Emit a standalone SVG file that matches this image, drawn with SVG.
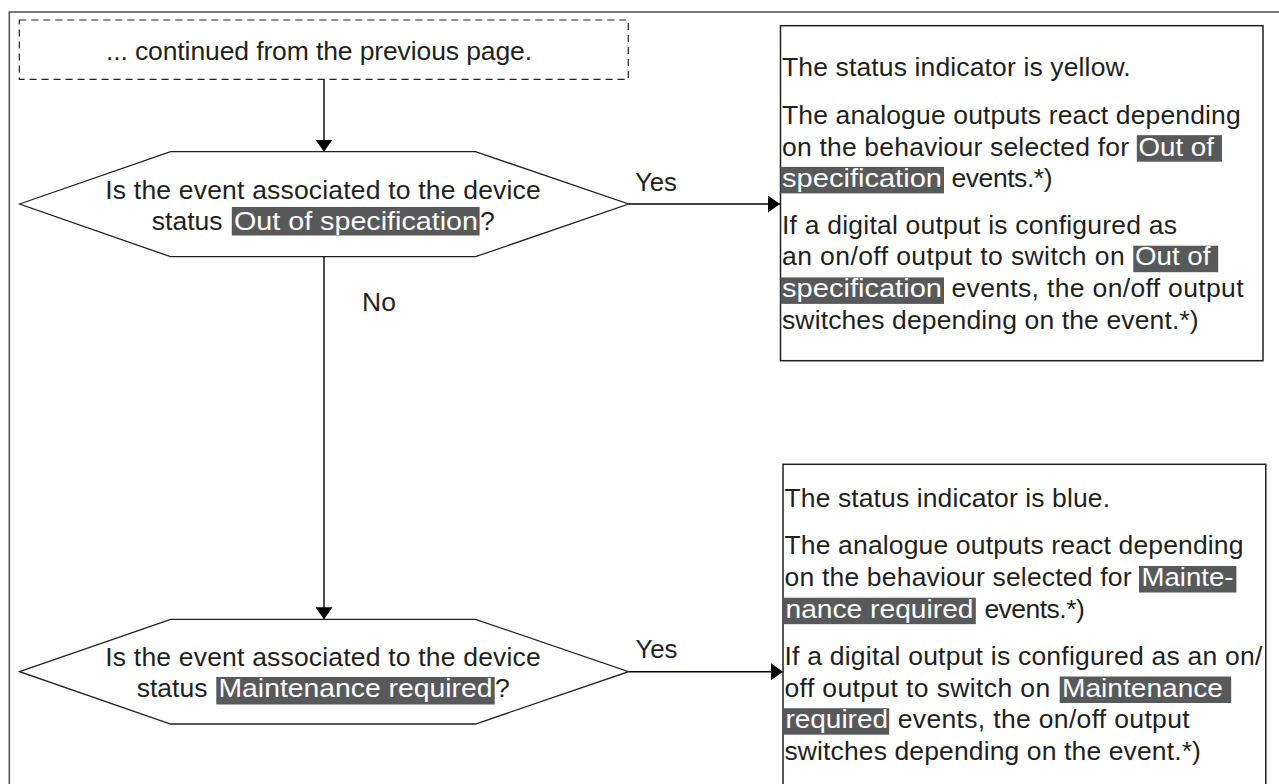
<svg xmlns="http://www.w3.org/2000/svg" width="1279" height="784" viewBox="0 0 1279 784">
  <style>
    text { font-family: "Liberation Sans", Arial, Helvetica, sans-serif; font-size: 26.5px; fill: #231f20; }
    text.hl { fill: #ffffff; }
    .hlbg { fill: #58595b; }
    .frame { fill: none; stroke: #58595b; stroke-width: 1.6; }
    .box { fill: #ffffff; stroke: #231f20; stroke-width: 1.5; }
    .dash { fill: none; stroke: #231f20; stroke-width: 1.2; stroke-dasharray: 7 5; }
    .hex { fill: #ffffff; stroke: #231f20; stroke-width: 1.3; }
    .conn { fill: none; stroke: #000000; stroke-width: 1.4; }
    .mid { text-anchor: middle; }
  </style>
  <defs>
    <marker id="arrow" markerUnits="userSpaceOnUse" markerWidth="12" markerHeight="17" refX="12" refY="8.5" orient="auto">
      <path d="M0,0 L12,8.5 L0,17 Z" fill="#000000"/>
    </marker>
  </defs>
  <rect width="1279" height="784" fill="#ffffff"/>
  <rect class="frame" x="9.3" y="12" width="1300" height="800"/>

  <g id="connectors">
    <line class="conn" x1="324" y1="79.5" x2="324" y2="151.7" marker-end="url(#arrow)"/>
    <line class="conn" x1="628.6" y1="204" x2="780" y2="204" marker-end="url(#arrow)"/>
    <line class="conn" x1="324" y1="256.7" x2="324" y2="619.3" marker-end="url(#arrow)"/>
    <line class="conn" x1="628.6" y1="671.7" x2="783" y2="671.7" marker-end="url(#arrow)"/>
    <text x="635" y="190.7" textLength="42" lengthAdjust="spacingAndGlyphs">Yes</text>
    <text x="362" y="311">No</text>
    <text x="635.5" y="658.3" textLength="42" lengthAdjust="spacingAndGlyphs">Yes</text>
  </g>

  <g id="start">
    <rect class="dash" x="19.3" y="20" width="609" height="59.3"/>
    <text x="106" y="60" textLength="426" lengthAdjust="spacing">... continued from the previous page.</text>
  </g>

  <g id="decision1">
    <polygon class="hex" points="19.6,204 170.6,151.7 475.5,151.7 628.6,204 475.5,256.7 170.6,256.7"/>
    <text x="105.3" y="199.3" textLength="435.5" lengthAdjust="spacing">Is the event associated to the device</text>
    <text x="151.8" y="230">status</text>
    <rect class="hlbg" x="231.8" y="207" width="247.8" height="28.5"/>
    <text class="hl" x="234" y="230" textLength="244" lengthAdjust="spacingAndGlyphs">Out of specification</text>
    <text x="480" y="230">?</text>
  </g>

  <g id="result1">
    <rect class="box" x="780.5" y="25.7" width="482.5" height="335"/>
    <text x="782" y="75.5" textLength="348.7" lengthAdjust="spacing">The status indicator is yellow.</text>
    <text x="782" y="124" textLength="458.7" lengthAdjust="spacing">The analogue outputs react depending</text>
    <text x="782" y="155.7" textLength="347" lengthAdjust="spacing">on the behaviour selected for</text>
    <rect class="hlbg" x="1136.8" y="135.2" width="85.2" height="26.5"/>
    <text class="hl" x="1138.5" y="155.7" textLength="75.5" lengthAdjust="spacingAndGlyphs">Out of</text>
    <rect class="hlbg" x="780.5" y="166.9" width="163.5" height="26.5"/>
    <text class="hl" x="782" y="187.4" textLength="160" lengthAdjust="spacingAndGlyphs">specification</text>
    <text x="951.5" y="187.4" textLength="101" lengthAdjust="spacing">events.*)</text>
    <text x="782" y="233.5" textLength="395" lengthAdjust="spacing">If a digital output is configured as</text>
    <text x="782" y="265.2" textLength="342.7" lengthAdjust="spacing">an on/off output to switch on</text>
    <rect class="hlbg" x="1133.3" y="245.7" width="84.9" height="26.5"/>
    <text class="hl" x="1135" y="265.2" textLength="75.5" lengthAdjust="spacingAndGlyphs">Out of</text>
    <rect class="hlbg" x="780.5" y="277.4" width="163.5" height="26.5"/>
    <text class="hl" x="782" y="296.9" textLength="160" lengthAdjust="spacingAndGlyphs">specification</text>
    <text x="951.5" y="296.9" textLength="292" lengthAdjust="spacing">events, the on/off output</text>
    <text x="782" y="328.6" textLength="416.7" lengthAdjust="spacing">switches depending on the event.*)</text>
  </g>

  <g id="decision2">
    <polygon class="hex" points="19.6,671.7 170.6,619.3 475.5,619.3 628.6,671.7 475.5,724 170.6,724"/>
    <text x="105.3" y="666" textLength="435.5" lengthAdjust="spacing">Is the event associated to the device</text>
    <text x="136.7" y="696.7">status</text>
    <rect class="hlbg" x="216.3" y="677" width="278.4" height="27.5"/>
    <text class="hl" x="218.5" y="696.7" textLength="274" lengthAdjust="spacingAndGlyphs">Maintenance required</text>
    <text x="495" y="696.7">?</text>
  </g>

  <g id="result2">
    <rect class="box" x="783" y="464.3" width="482.8" height="340"/>
    <text x="784.5" y="506.5" textLength="325.5" lengthAdjust="spacing">The status indicator is blue.</text>
    <text x="784.5" y="554.3" textLength="459" lengthAdjust="spacing">The analogue outputs react depending</text>
    <text x="784.5" y="586" textLength="347" lengthAdjust="spacing">on the behaviour selected for</text>
    <rect class="hlbg" x="1139" y="566" width="97.4" height="26.5"/>
    <text class="hl" x="1141.5" y="586" textLength="92" lengthAdjust="spacingAndGlyphs">Mainte-</text>
    <rect class="hlbg" x="784" y="597.7" width="191.8" height="26.5"/>
    <text class="hl" x="785.5" y="617.7" textLength="188" lengthAdjust="spacingAndGlyphs">nance required</text>
    <text x="984.4" y="617.7" textLength="100.4" lengthAdjust="spacing">events.*)</text>
    <text x="784.5" y="664.8" textLength="477.8" lengthAdjust="spacing">If a digital output is configured as an on/</text>
    <text x="784.5" y="696.5" textLength="265.7" lengthAdjust="spacing">off output to switch on</text>
    <rect class="hlbg" x="1059.7" y="676.5" width="171.5" height="26.5"/>
    <text class="hl" x="1062" y="696.5" textLength="161" lengthAdjust="spacingAndGlyphs">Maintenance</text>
    <rect class="hlbg" x="784" y="708.2" width="105.2" height="26.5"/>
    <text class="hl" x="785.5" y="728.2" textLength="102.5" lengthAdjust="spacingAndGlyphs">required</text>
    <text x="897.8" y="728.2" textLength="291.8" lengthAdjust="spacing">events, the on/off output</text>
    <text x="784.5" y="760" textLength="416.4" lengthAdjust="spacing">switches depending on the event.*)</text>
  </g>
</svg>
